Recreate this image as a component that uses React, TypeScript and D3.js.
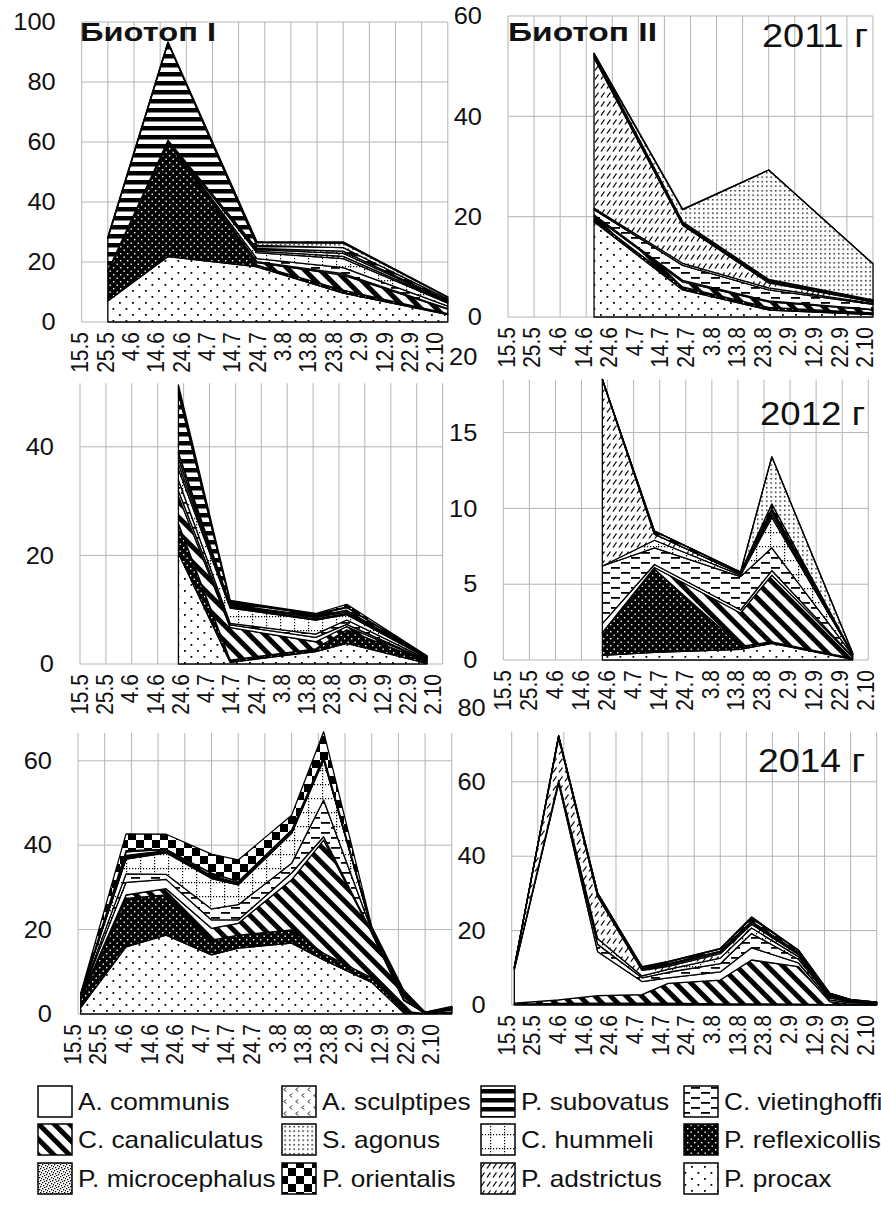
import React from "react";
import * as d3 from "d3";

// ---------- DATA ----------
// stacking order, bottom -> top
const SPECIES = [
  "P. procax", "P. reflexicollis", "C. canaliculatus", "A. communis",
  "C. vietinghoffi", "C. hummeli", "P. adstrictus", "A. sculptipes",
  "P. microcephalus", "P. subovatus", "S. agonus", "P. orientalis",
];
const PATTERN_IDS = [
  "procax", "reflexicollis", "canaliculatus", "communis",
  "vietinghoffi", "hummeli", "adstrictus", "sculptipes",
  "microcephalus", "subovatus", "agonus", "orientalis",
];

const DATE_TICKS = ["15.5", "25.5", "4.6", "14.6", "24.6", "4.7", "14.7", "24.7", "3.8", "13.8", "23.8", "2.9", "12.9", "22.9", "2.10"];

// 2011, Biotop I
const P1_DATES = ["25.5", "17.6", "21.7", "23.8", "2.10"];
const P1_VALUES = [
  [7, 21.8, 18.4, 9.6, 2.5],
  [10, 38, 0.6, 1.0, 0.3],
  [0, 0.5, 0.8, 5, 1.5],
  [0, 0, 0.3, 0.5, 0.2],
  [0, 0.3, 1.0, 2, 0.8],
  [0, 0, 2.0, 3, 1],
  [0, 0, 0.5, 0.8, 0.3],
  [0, 0, 0.5, 1, 0.3],
  [0, 0, 0.4, 0.7, 0.2],
  [11, 32.5, 1.0, 1.2, 0.5],
  [0, 0, 1.0, 1.5, 0.6],
  [0.4, 0.3, 0.3, 0.4, 0.2],
];
const P1_TICKS = [0, 20, 40, 60, 80, 100];

// 2011, Biotop II
const P2_DATES = ["17.6", "21.7", "23.8", "2.10"];
const P2_VALUES = [
  [19.0, 5.4, 1.4, 0.5],
  [0.5, 0.6, 0.5, 0.3],
  [0.6, 1.0, 1.1, 0.6],
  [0.3, 0.3, 0.2, 0.1],
  [1.0, 3.0, 2.2, 1.0],
  [0.3, 0.4, 0.4, 0.2],
  [30.0, 7.6, 1.0, 0.3],
  [0.3, 0.2, 0.2, 0.1],
  [0.2, 0.2, 0.2, 0.1],
  [0.3, 0.3, 0.3, 0.2],
  [0, 2.4, 21.8, 7.2],
  [0.1, 0.1, 0, 0],
];
const P2_TICKS = [0, 20, 40, 60];

// 2012, Biotop I
const P3_DATES = ["22.6", "12.7", "14.8", "26.8", "26.9"];
const P3_VALUES = [
  [20.4, 0.3, 2.3, 3.8, 0.1],
  [5.5, 0.4, 0.5, 2.5, 0.3],
  [5, 6.0, 1.3, 0.6, 0.2],
  [1, 0.5, 0.8, 0.4, 0.1],
  [2, 0.3, 0.6, 0.8, 0.2],
  [2, 2.8, 2.6, 1.0, 0.2],
  [1, 0.2, 0.2, 0.2, 0.05],
  [1, 0.2, 0.3, 0.3, 0.05],
  [1, 0.2, 0.2, 0.3, 0.05],
  [11, 0.5, 0.3, 0.5, 0.1],
  [0.5, 0.1, 0.1, 0.1, 0.05],
  [1, 0.2, 0.1, 0.5, 0.1],
];
const P3_TICKS = [0, 20, 40];

// 2012, Biotop II
const P4_DATES = ["22.6", "12.7", "14.8", "26.8", "26.9"];
const P4_VALUES = [
  [0.3, 0.5, 0.7, 1.1, 0.05],
  [1.5, 5.5, 0.2, 0.1, 0.05],
  [0, 0.1, 2.2, 4.4, 0.1],
  [0.6, 0.2, 0.2, 0.3, 0.02],
  [3.8, 1.1, 2.2, 1.5, 0.1],
  [0, 0.5, 0.1, 2.0, 0.05],
  [12.3, 0.4, 0.1, 0.2, 0.02],
  [0, 0, 0, 0.2, 0],
  [0, 0, 0, 0.2, 0],
  [0, 0.2, 0.1, 0.3, 0.02],
  [0, 0, 0, 3.1, 0.05],
  [0, 0, 0, 0, 0],
];
const P4_TICKS = [0, 5, 10, 15, 20];

// 2014, Biotop I
const P5_DATES = ["16.5", "2.6", "17.6", "4.7", "14.7", "3.8", "15.8", "2.9", "14.9", "22.9", "2.10"];
const P5_VALUES = [
  [1.5, 15.9, 18.7, 14.0, 15.6, 16.8, 12.8, 7.5, 0.3, 0.05, 0.3],
  [2, 11.5, 9.5, 3.5, 3.1, 3.1, 1.6, 1.1, 0.4, 0.05, 0.2],
  [0.3, 0.8, 1.5, 2.8, 2.8, 11.9, 26.8, 10.6, 2.5, 0.1, 0.5],
  [0.2, 3.0, 2.2, 2.0, 0.8, 1.6, 0.8, 0.2, 0.2, 0.05, 0.1],
  [0.3, 2.0, 1.2, 2.6, 3.6, 2.3, 8.7, 0.4, 0.6, 0.05, 0.2],
  [0.3, 3.5, 5.1, 7.2, 4.7, 7.1, 9.5, 0.3, 0.4, 0.05, 0.1],
  [0, 0.3, 0.2, 0.2, 0.2, 0.2, 0.2, 0.1, 0.1, 0, 0],
  [0, 0.3, 0.2, 0.3, 0.2, 0.2, 0.2, 0.1, 0.1, 0, 0],
  [0, 0.3, 0.1, 0.2, 0.1, 0.1, 0.1, 0, 0, 0, 0],
  [0, 0.8, 0.3, 0.6, 0.3, 0.3, 0.3, 0.1, 0.5, 0.05, 0.2],
  [0, 0.3, 0, 0, 0, 0, 0, 0, 0, 0, 0],
  [0.3, 4.0, 3.6, 4.5, 5.1, 3.5, 5.9, 0.3, 0.6, 0.05, 0.2],
];
const P5_TICKS = [0, 20, 40, 60];

// 2014, Biotop II
const P6_DATES = ["16.5", "2.6", "17.6", "4.7", "14.7", "3.8", "15.8", "2.9", "14.9", "22.9", "2.10"];
const P6_VALUES = [
  [0.2, 0.2, 0.3, 0.3, 0.3, 0.2, 0.2, 0.1, 0.1, 0.05, 0.05],
  [0, 0.2, 0.2, 0.2, 0.2, 0.1, 0.1, 0.1, 0, 0, 0],
  [0.3, 1.0, 2.0, 2.3, 5.3, 6.4, 11.8, 10.1, 0.8, 0.1, 0.05],
  [9, 58.2, 11.8, 3.5, 1.5, 2.2, 3.3, 1.0, 0.5, 0.4, 0.2],
  [0.3, 0.5, 2.0, 1.0, 1.5, 2.2, 3.8, 1.0, 0.5, 0.3, 0.1],
  [0, 0.3, 1.5, 0.5, 0.8, 1.5, 1.5, 0.7, 0.3, 0.2, 0.1],
  [0.3, 11.5, 11.3, 1.5, 0.8, 1.2, 1.0, 0.6, 0.3, 0.2, 0.1],
  [0, 0.2, 0.3, 0.3, 0.4, 0.4, 0.4, 0.3, 0.2, 0.05, 0.05],
  [0, 0.1, 0.2, 0.2, 0.3, 0.3, 0.4, 0.3, 0.2, 0.05, 0.05],
  [0, 0.2, 0.4, 0.4, 0.5, 0.6, 0.8, 0.5, 0.2, 0.1, 0.05],
  [0, 0, 0, 0, 0, 0, 0.2, 0, 0, 0, 0],
  [0, 0, 0.1, 0.1, 0.1, 0.1, 0.2, 0.1, 0.1, 0.05, 0.05],
];
const P6_TICKS = [0, 20, 40, 60, 80];

const LEGEND_ROWS = [
  ["A. communis", "A. sculptipes", "P. subovatus", "C. vietinghoffi"],
  ["C. canaliculatus", "S. agonus", "C. hummeli", "P. reflexicollis"],
  ["P. microcephalus", "P. orientalis", "P. adstrictus", "P. procax"],
];

// ---------- LAYOUT ----------
const FONT = "'Liberation Sans', Arial, Helvetica, sans-serif";

const PANELS = [
  { dates: P1_DATES, values: P1_VALUES, ticks: P1_TICKS, x0: 81.7, dx: 26.15, y0: 322, k: 3.0, yTop: 100, lx0: 80.5, ldx: 25.35 },
  { dates: P2_DATES, values: P2_VALUES, ticks: P2_TICKS, x0: 508, dx: 26.07, y0: 317, k: 5.017, yTop: 60, lx0: 507, ldx: 25.6 },
  { dates: P3_DATES, values: P3_VALUES, ticks: P3_TICKS, x0: 80, dx: 25.9, y0: 664, k: 5.43, yTop: 51.7, lx0: 80, ldx: 25.25 },
  { dates: P4_DATES, values: P4_VALUES, ticks: P4_TICKS, x0: 503.3, dx: 26.07, y0: 660, k: 15.16, yTop: 18.5, lx0: 503.5, ldx: 25.9 },
  { dates: P5_DATES, values: P5_VALUES, ticks: P5_TICKS, x0: 78, dx: 26.7, y0: 1014, k: 4.22, yTop: 66.6, lx0: 73, ldx: 25.6 },
  { dates: P6_DATES, values: P6_VALUES, ticks: P6_TICKS, x0: 511.7, dx: 26.07, y0: 1005, k: 3.72, yTop: 73.5, lx0: 507, ldx: 25.65 },
];

function parseDay(s: string): Date {
  const [d, m] = s.split(".").map(Number);
  return new Date(Date.UTC(2000, m - 1, d));
}

function Patterns() {
  const W = "#fff";
  const B = "#000";
  return (
    <defs>
      <pattern id="pat-communis" patternUnits="userSpaceOnUse" width={10} height={10}>
        <rect width={10} height={10} fill={W} />
      </pattern>
      <pattern id="pat-procax" patternUnits="userSpaceOnUse" width={13} height={12}>
        <rect width={13} height={12} fill={W} />
        <rect x={2} y={2} width={1.8} height={1.8} fill={B} />
        <rect x={8.5} y={8} width={1.8} height={1.8} fill={B} />
      </pattern>
      <pattern id="pat-reflexicollis" patternUnits="userSpaceOnUse" width={7} height={7}>
        <rect width={7} height={7} fill={B} />
        <rect x={1} y={1} width={1.4} height={1.4} fill={W} />
        <rect x={4.5} y={4.5} width={1.4} height={1.4} fill={W} />
      </pattern>
      <pattern id="pat-canaliculatus" patternUnits="userSpaceOnUse" width={11} height={11} patternTransform="rotate(-45)">
        <rect width={11} height={11} fill={W} />
        <rect width={5} height={11} fill={B} />
      </pattern>
      <pattern id="pat-vietinghoffi" patternUnits="userSpaceOnUse" width={20} height={10}>
        <rect width={20} height={10} fill={W} />
        <rect x={1} y={2} width={9} height={1.8} fill={B} />
        <rect x={11} y={7} width={9} height={1.8} fill={B} />
      </pattern>
      <pattern id="pat-hummeli" patternUnits="userSpaceOnUse" width={14} height={14}>
        <rect width={14} height={14} fill={W} />
        <line x1={0} y1={0.6} x2={14} y2={0.6} stroke={B} strokeWidth={1.2} strokeDasharray="1.2 1.8" />
        <line x1={0.6} y1={0} x2={0.6} y2={14} stroke={B} strokeWidth={1.2} strokeDasharray="1.2 1.8" />
      </pattern>
      <pattern id="pat-adstrictus" patternUnits="userSpaceOnUse" width={6} height={9}>
        <rect width={6} height={9} fill={W} />
        <line x1={1} y1={7.5} x2={4.5} y2={2.5} stroke={B} strokeWidth={1.3} />
      </pattern>
      <pattern id="pat-sculptipes" patternUnits="userSpaceOnUse" width={12} height={12}>
        <rect width={12} height={12} fill={W} />
        <path d="M4,1.5 L2,3.5 L4,5.5" stroke={B} fill="none" strokeWidth={1} />
        <path d="M10,7.5 L8,9.5 L10,11.5" stroke={B} fill="none" strokeWidth={1} />
      </pattern>
      <pattern id="pat-microcephalus" patternUnits="userSpaceOnUse" width={6} height={6}>
        <rect width={6} height={6} fill={W} />
        {[[0, 0], [3, 1], [1, 3], [4, 4], [5, 2], [2, 5]].map(([a, b], i) => (
          <rect key={i} x={a} y={b} width={1.3} height={1.3} fill={B} />
        ))}
      </pattern>
      <pattern id="pat-subovatus" patternUnits="userSpaceOnUse" width={8} height={9}>
        <rect width={8} height={9} fill={W} />
        <rect width={8} height={4.5} fill={B} />
      </pattern>
      <pattern id="pat-agonus" patternUnits="userSpaceOnUse" width={4.5} height={4.5}>
        <rect width={4.5} height={4.5} fill={W} />
        <rect x={1} y={1} width={1.4} height={1.4} fill={B} />
      </pattern>
      <pattern id="pat-orientalis" patternUnits="userSpaceOnUse" width={16} height={16}>
        <rect width={16} height={16} fill={W} />
        <rect width={8} height={8} fill={B} />
        <rect x={8} y={8} width={8} height={8} fill={B} />
      </pattern>
    </defs>
  );
}

type PanelCfg = (typeof PANELS)[number];

function Panel({ cfg }: { cfg: PanelCfg }) {
  const xEnd = cfg.x0 + 14 * cfg.dx;
  const x = d3.scaleUtc()
    .domain([parseDay(DATE_TICKS[0]), parseDay(DATE_TICKS[DATE_TICKS.length - 1])])
    .range([cfg.x0, xEnd]);
  const xLabel = d3.scalePoint<string>().domain(DATE_TICKS).range([cfg.lx0, cfg.lx0 + 14 * cfg.ldx]);
  const y = d3.scaleLinear().domain([0, cfg.yTop]).range([cfg.y0, cfg.y0 - cfg.yTop * cfg.k]);
  const yFull = (v: number) => cfg.y0 - v * cfg.k;

  const rows = cfg.dates.map((d, j) => {
    const o: any = { date: parseDay(d) };
    SPECIES.forEach((s, i) => (o[s] = cfg.values[i][j]));
    return o;
  });
  const series = d3.stack<any>().keys(SPECIES)(rows);
  const area = d3.area<any>()
    .x((d) => x(d.data.date))
    .y0((d) => y(d[0]))
    .y1((d) => y(d[1]));

  const gridTop = y(cfg.yTop);
  const grid = "#b4b4b4";

  return (
    <g>
      {DATE_TICKS.map((t) => (
        <line key={"v" + t} x1={x(parseDay(t))} x2={x(parseDay(t))} y1={cfg.y0} y2={gridTop} stroke={grid} strokeWidth={1} />
      ))}
      {cfg.ticks.filter((t) => t <= cfg.yTop).map((t) => (
        <line key={"h" + t} x1={cfg.x0} x2={xEnd} y1={y(t)} y2={y(t)} stroke={grid} strokeWidth={1} />
      ))}
      {series.map((s, i) => (
        <path key={SPECIES[i]} d={area(s) || ""} fill={`url(#pat-${PATTERN_IDS[i]})`} stroke="#000" strokeWidth={1.3} strokeLinejoin="round" />
      ))}
      {cfg.ticks.map((t) => (
        <text key={"yl" + t} transform={`translate(${cfg.x0 - 26},${yFull(t)}) scale(1.06,1)`} textAnchor="end" dominantBaseline="central" fontSize={24} fontFamily={FONT} fill="#111">
          {t}
        </text>
      ))}
      {DATE_TICKS.map((t) => (
        <text key={"xl" + t} transform={`translate(${xLabel(t)},${cfg.y0 + 10}) scale(1.1,1) rotate(-90)`} textAnchor="end" dominantBaseline="central" fontSize={21} fontFamily={FONT} fill="#111">
          {t}
        </text>
      ))}
    </g>
  );
}

function Legend() {
  const colX = [38, 282, 481, 684];
  const rowY = [1086, 1124, 1163];
  return (
    <g>
      {LEGEND_ROWS.map((row, r) =>
        row.map((name, c) => {
          const idx = SPECIES.indexOf(name);
          return (
            <g key={name}>
              <rect x={colX[c]} y={rowY[r]} width={34} height={31} fill={`url(#pat-${PATTERN_IDS[idx]})`} stroke="#000" strokeWidth={1.5} />
              <text transform={`translate(${colX[c] + 40},${rowY[r] + 24}) scale(1.14,1)`} fontSize={23} fontFamily={FONT} fill="#111">
                {name}
              </text>
            </g>
          );
        })
      )}
    </g>
  );
}

export default function App() {
  return (
    <svg width={881} height={1207} viewBox="0 0 881 1207" style={{ position: "absolute", left: 0, top: 0, background: "#fff" }}>
      <Patterns />
      <rect width={881} height={1207} fill="#fff" />
      {PANELS.map((p, i) => (
        <Panel key={i} cfg={p} />
      ))}
      <text x={80} y={41} fontSize={26} fontWeight="bold" fontFamily={FONT} textLength={136} lengthAdjust="spacingAndGlyphs" fill="#111">Биотоп I</text>
      <text x={508} y={41} fontSize={26} fontWeight="bold" fontFamily={FONT} textLength={149} lengthAdjust="spacingAndGlyphs" fill="#111">Биотоп II</text>
      <text x={762} y={47} fontSize={33} fontFamily={FONT} textLength={106} lengthAdjust="spacingAndGlyphs" fill="#111">2011 г</text>
      <text x={760} y={425} fontSize={33} fontFamily={FONT} textLength={105} lengthAdjust="spacingAndGlyphs" fill="#111">2012 г</text>
      <text x={758} y={772} fontSize={33} fontFamily={FONT} textLength={107} lengthAdjust="spacingAndGlyphs" fill="#111">2014 г</text>
      <Legend />
    </svg>
  );
}
